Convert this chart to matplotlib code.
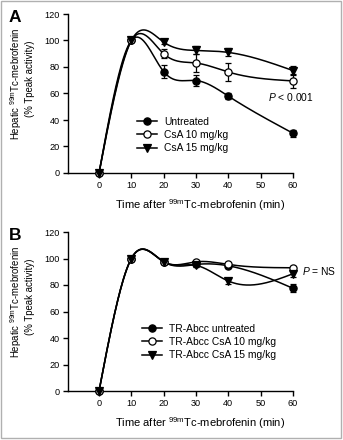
import numpy as np
import matplotlib
matplotlib.use("Agg")
import matplotlib.pyplot as plt
from matplotlib.lines import Line2D
from matplotlib.patches import Rectangle

plt.rcParams["font.family"] = ["Liberation Sans", "DejaVu Sans"]
plt.rcParams["mathtext.fontset"] = "custom"
plt.rcParams["mathtext.rm"] = "Liberation Sans"
plt.rcParams["mathtext.it"] = "Liberation Sans:italic"
plt.rcParams["mathtext.bf"] = "Liberation Sans:bold"
plt.rcParams["mathtext.default"] = "regular"

# ---- data ----
time = [0, 10, 20, 30, 40, 60]

a_labels = ["Untreated", "CsA 10 mg/kg", "CsA 15 mg/kg"]
a_untreated = [0, 100, 76.5, 69.8, 58.0, 30.0]
a_untreated_err = [0, 0, 4.8, 4.3, 2.5, 2.5]
a_csa10 = [0, 100, 90.0, 83.0, 76.2, 69.5]
a_csa10_err = [0, 0, 3.5, 7.0, 7.0, 5.0]
a_csa15 = [0, 100, 98.8, 92.5, 91.0, 77.3]
a_csa15_err = [0, 0, 1.5, 3.0, 3.0, 3.5]

b_labels = ["TR-Abcc untreated", "TR-Abcc CsA 10 mg/kg", "TR-Abcc CsA 15 mg/kg"]
b_untreated = [0, 100, 97.5, 95.5, 94.5, 77.5]
b_untreated_err = [0, 0, 1.5, 1.5, 1.5, 3.0]
b_csa10 = [0, 100, 97.5, 97.5, 95.5, 93.0]
b_csa10_err = [0, 0, 1.0, 1.0, 1.0, 1.5]
b_csa15 = [0, 100, 97.5, 94.8, 83.0, 88.5]
b_csa15_err = [0, 0, 1.0, 1.5, 2.0, 2.5]

markers = ["o", "o", "v"]
faces = ["black", "white", "black"]

W, H = 343, 440


def natural_spline(x, y, n=300):
    x = np.asarray(x, float)
    y = np.asarray(y, float)
    k = len(x)
    h = np.diff(x)
    A = np.zeros((k, k))
    r = np.zeros(k)
    A[0, 0] = A[-1, -1] = 1
    for i in range(1, k - 1):
        A[i, i - 1] = h[i - 1]
        A[i, i] = 2 * (h[i - 1] + h[i])
        A[i, i + 1] = h[i]
        r[i] = 6 * ((y[i + 1] - y[i]) / h[i] - (y[i] - y[i - 1]) / h[i - 1])
    m = np.linalg.solve(A, r)
    xs = np.linspace(x[0], x[-1], n)
    idx = np.clip(np.searchsorted(x, xs) - 1, 0, k - 2)
    x0, x1 = x[idx], x[idx + 1]
    hh = x1 - x0
    t0, t1 = x1 - xs, xs - x0
    ys = (m[idx] * t0 ** 3 + m[idx + 1] * t1 ** 3) / (6 * hh) \
        + (y[idx] / hh - m[idx] * hh / 6) * t0 \
        + (y[idx + 1] / hh - m[idx + 1] * hh / 6) * t1
    return xs, ys


def fx(px):
    return px / W


def fy(py):
    return 1 - py / H


fig = plt.figure(figsize=(W / 100, H / 100), dpi=100)
fig.patches.append(Rectangle((fx(1), fy(438)), fx(340), 437 / H,
                             transform=fig.transFigure, fill=False,
                             edgecolor="#b0b0b0", lw=1.0))


def panel(top, bottom, series, errs, labels, letter, ptext, ppos, leg_xy):
    ax = fig.add_axes([fx(68), fy(bottom), fx(293) - fx(68), fy(top) - fy(bottom)])
    handles = []
    for ys, es, mk, fc in zip(series, errs, markers, faces):
        xs, ss = natural_spline(time, ys)
        ax.plot(xs, ss, color="black", lw=1.1, clip_on=False, zorder=2)
        ax.errorbar(time, ys, yerr=es, fmt="none", ecolor="black",
                    elinewidth=0.9, capsize=2.5, capthick=0.9,
                    clip_on=False, zorder=3)
        ax.plot(time, ys, ls="none", marker=mk, ms=5.2, mfc=fc, mec="black",
                mew=0.9, clip_on=False, zorder=4)
        handles.append(Line2D([], [], color="black", lw=1.1, marker=mk,
                              ms=5.2, mfc=fc, mec="black", mew=0.9))
    ax.set_xlim(-9.6, 60)
    ax.set_ylim(0, 120)
    ax.set_xticks([0, 10, 20, 30, 40, 50, 60])
    ax.set_yticks([0, 20, 40, 60, 80, 100, 120])
    for s in ("top", "right"):
        ax.spines[s].set_visible(False)
    for s in ("left", "bottom"):
        ax.spines[s].set_linewidth(1.0)
    ax.tick_params(direction="out", length=3.5, width=1.0, labelsize=6.6,
                   pad=2.5, colors="black")
    ax.set_facecolor("none")
    ax.legend(handles, labels, loc="upper left",
              bbox_to_anchor=(fx(leg_xy[0]), fy(leg_xy[1])),
              bbox_transform=fig.transFigure, frameon=False,
              fontsize=7.4, handlelength=1.9, handletextpad=0.75,
              labelspacing=0.3, borderpad=0, borderaxespad=0)
    ax.text(ppos[0], ppos[1], ptext, fontsize=7.4, ha="left", va="center")
    fig.text(fx(9), fy(top + 8), letter, fontsize=12.5, fontweight="bold",
             ha="left", va="baseline")
    mid = top + 70
    fig.text(fx(16), fy(mid), r"Hepatic $^{99m}$Tc-mebrofenin", rotation=90,
             fontsize=6.9, ha="center", va="center")
    fig.text(fx(30), fy(mid - 5), "(% Tpeak activity)", rotation=90,
             fontsize=6.9, ha="center", va="center")
    fig.text(fx(200), fy(bottom + 32), r"Time after $^{99m}$Tc-mebrofenin (min)",
             fontsize=8, ha="center", va="center")
    return ax


panel(14, 173, [a_untreated, a_csa10, a_csa15],
      [a_untreated_err, a_csa10_err, a_csa15_err], a_labels, "A",
      r"$\mathit{P}$ < 0.001", (52.3, 57), (137, 117))
panel(232, 391, [b_untreated, b_csa10, b_csa15],
      [b_untreated_err, b_csa10_err, b_csa15_err], b_labels, "B",
      r"$\mathit{P}$ = NS", (62.8, 90.6), (142, 324))

fig.savefig("out.png", dpi=100)
